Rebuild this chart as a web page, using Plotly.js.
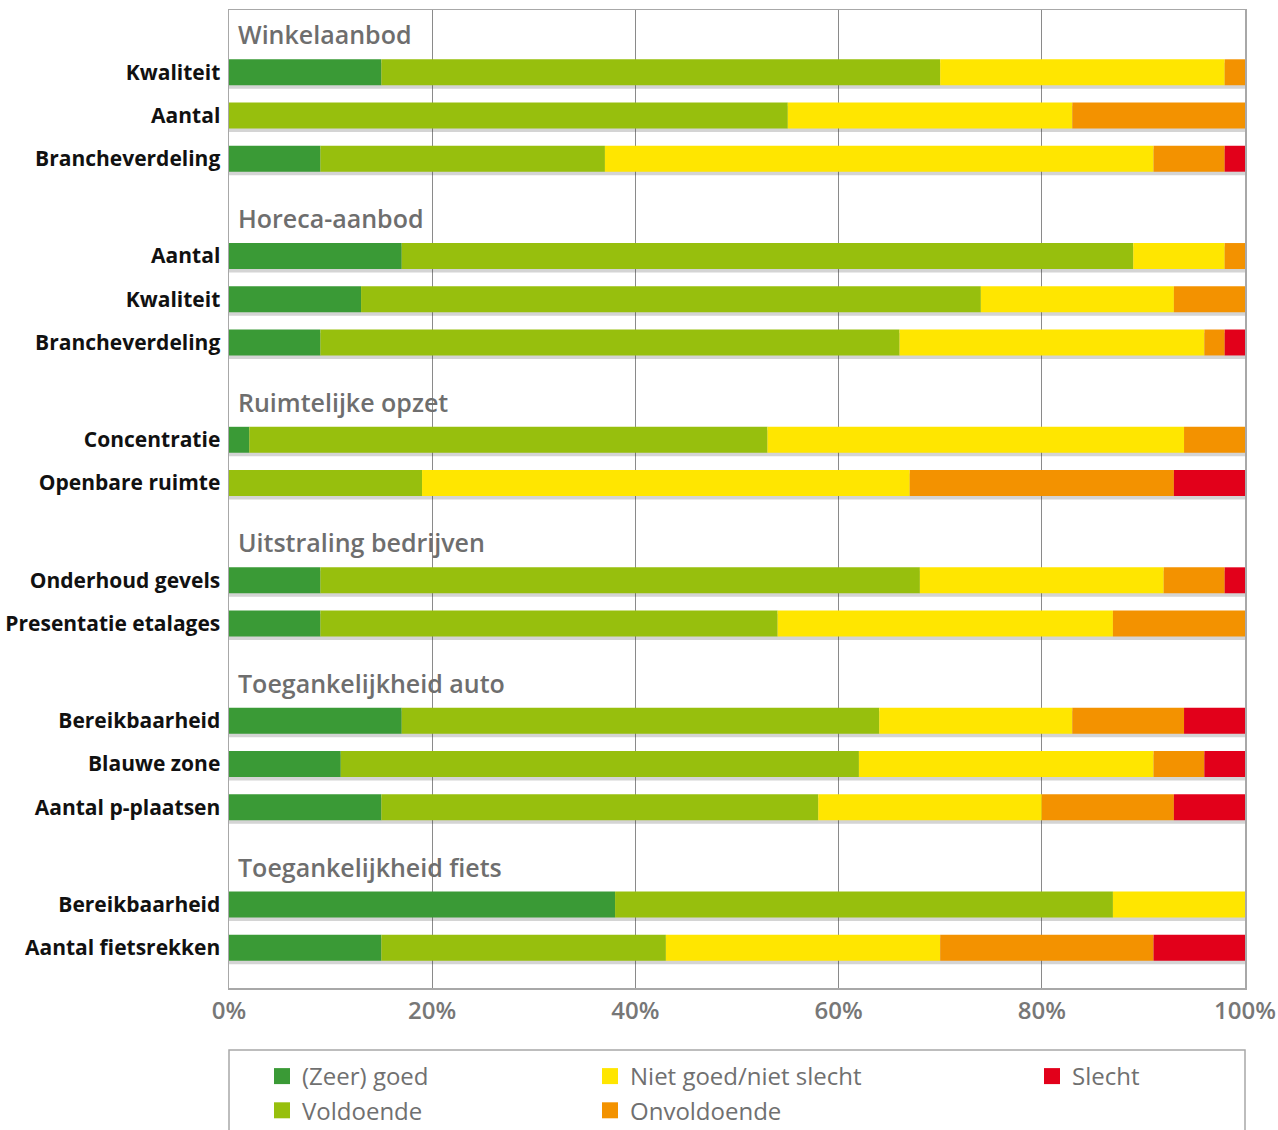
<!DOCTYPE html>
<html>
<head>
<meta charset="utf-8">
<script src="https://cdn.plot.ly/plotly-3.0.1.min.js"></script>
<style>html,body{margin:0;padding:0;background:#fff;}#chart{width:1278px;height:1130px;}</style>
</head>
<body>
<div id="chart"></div>
<script>
// ---- data ----
const groups = ['Winkelaanbod','Horeca-aanbod','Ruimtelijke opzet','Uitstraling bedrijven','Toegankelijkheid auto','Toegankelijkheid fiets'];
const groupRows = [
  ['Kwaliteit','Aantal','Brancheverdeling'],
  ['Aantal','Kwaliteit','Brancheverdeling'],
  ['Concentratie','Openbare ruimte'],
  ['Onderhoud gevels','Presentatie etalages'],
  ['Bereikbaarheid','Blauwe zone','Aantal p-plaatsen'],
  ['Bereikbaarheid','Aantal fietsrekken']
];
const seriesNames = ['(Zeer) goed','Voldoende','Niet goed/niet slecht','Onvoldoende','Slecht'];
const zeerGoed    = [15, 0, 9, 17,13, 9,  2, 0,  9, 9, 17,11,15, 38,15];
const voldoende   = [55,55,28, 72,61,57, 51,19, 59,45, 47,51,43, 49,28];
const neutraal    = [28,28,54,  9,19,30, 41,48, 24,33, 19,29,22, 13,27];
const onvoldoende = [ 2,17, 7,  2, 7, 2,  6,26,  6,13, 11, 5,13,  0,21];
const slecht      = [ 0, 0, 2,  0, 0, 2,  0, 7,  2, 0,  6, 4, 7,  0, 9];
const xTicks = [0,20,40,60,80,100];

// ---- layout helpers ----
const colors = ['#3a9a36','#97bf0d','#ffe600','#f39200','#e2001a'];
const seriesData = [zeerGoed, voldoende, neutraal, onvoldoende, slecht];
const FIRST = 1.44, GAP = 2.25, HEAD = 0.88, BOTTOM = 0.93;
const yPos = [], yLabels = [], headPos = [];
let pos = FIRST;
groupRows.forEach((rows, gi) => {
  if (gi > 0) pos += GAP - 1;
  headPos.push(pos - HEAD);
  rows.forEach(r => { yPos.push(pos); yLabels.push(r); pos += 1; });
});
const yMax = yPos[yPos.length-1] + BOTTOM;
const BW = 0.6;

const traces = [];
// shadow
const totals = yPos.map((_, i) => seriesData.reduce((s, a) => s + a[i], 0));
traces.push({
  type:'bar', orientation:'h', y: yPos, x: totals, base: 0,
  width: BW, offset: -BW/2 + 0.08, marker:{color:'rgba(60,60,60,0.22)'},
  showlegend:false, hoverinfo:'skip'
});
const cum = yPos.map(() => 0);
seriesData.forEach((arr, si) => {
  const base = cum.slice();
  arr.forEach((v, i) => cum[i] += v);
  traces.push({
    type:'bar', orientation:'h', name: seriesNames[si],
    y: yPos, x: arr, base: base, width: BW,
    marker:{color: colors[si], line:{width:0}},
    showlegend:false
  });
});
// legend entries (3 column legends)
const legendOf = ['legend','legend','legend2','legend2','legend3'];
seriesNames.forEach((n, si) => {
  traces.push({
    type:'scatter', mode:'markers', name:n, x:[null], y:[null],
    marker:{symbol:'square', size:16, color: colors[si]},
    legend: legendOf[si], showlegend:true
  });
});

const H = 1130, W = 1278, mt = 10, mb = 142, ml = 229, mr = 33;
const ph = H - mt - mb;
const legFont = {family:'Open Sans', size:24, color:'#707070'};
const legCommon = {orientation:'v', yanchor:'top', xanchor:'left', xref:'container', yref:'container',
  y: 1 - 1054/H, font: legFont, bgcolor:'rgba(0,0,0,0)', itemclick:false, tracegroupgap:0, itemwidth:30};

const annotations = groups.map((g, gi) => ({
  x: 0, y: headPos[gi], xref:'x', yref:'y', text: g, showarrow:false,
  xanchor:'left', yanchor:'middle', xshift: 7,
  font:{family:'Open Sans', size:25, color:'#6e6e6e', weight:600}
}));

const layout = {
  width: W, height: H,
  margin:{l:ml, r:mr, t:mt, b:mb, pad:0, autoexpand:false},
  paper_bgcolor:'#fff', plot_bgcolor:'#fff',
  barmode:'overlay',
  showlegend:true,
  font:{family:'Open Sans'},
  xaxis:{range:[0,100], tickvals:xTicks, ticktext:xTicks.map(v => v + '%'),
    showgrid:true, gridcolor:'#8a8a8a', gridwidth:1, zeroline:false,
    showline:true, mirror:true, linecolor:'#a8a8a8', linewidth:1.5,
    ticks:'', ticklabelstandoff: 1, automargin:false,
    tickfont:{family:'Open Sans', size:24, color:'#777', weight:600}, fixedrange:true},
  yaxis:{range:[yMax, 0], tickvals:yPos, ticktext:yLabels, showgrid:false, zeroline:false,
    showline:true, mirror:true, linecolor:'#a8a8a8', linewidth:1.5, ticks:'',
    ticklabelstandoff: 3, automargin:false,
    tickfont:{family:'Open Sans', size:21, color:'#111', weight:700}, fixedrange:true},
  legend: Object.assign({}, legCommon, {x:262/W}),
  legend2: Object.assign({}, legCommon, {x:590/W}),
  legend3: Object.assign({}, legCommon, {x:1032/W}),
  annotations: annotations,
  shapes:[{type:'rect', xref:'paper', yref:'paper', x0:0, x1:1,
    y0: -(1140-988)/ph, y1: -(1050-988)/ph, line:{color:'#a8a8a8', width:1.5}, fillcolor:'rgba(0,0,0,0)'}]
};

Plotly.newPlot('chart', traces, layout, {displayModeBar:false, staticPlot:true});
</script>
</body>
</html>
